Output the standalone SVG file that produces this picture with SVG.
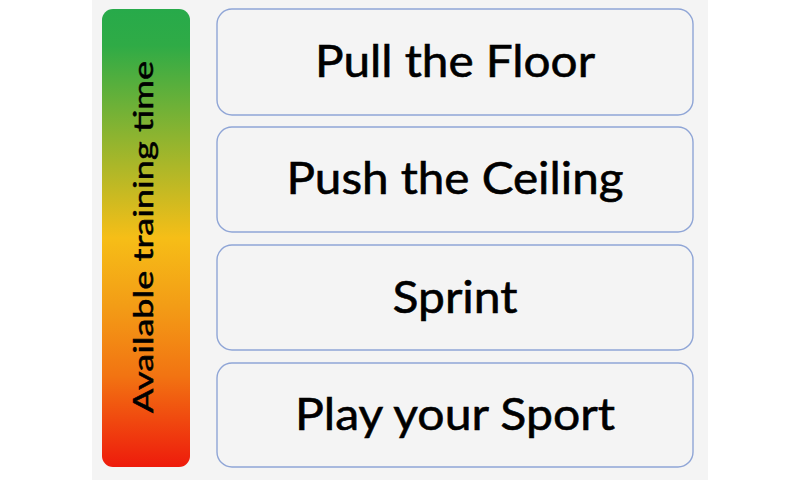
<svg xmlns="http://www.w3.org/2000/svg" width="800" height="480" viewBox="0 0 800 480">
  <defs>
    <linearGradient id="timeGrad" x1="0" y1="0" x2="0" y2="1">
      <stop offset="0" stop-color="#27AA4A"/>
      <stop offset="0.08" stop-color="#2FAB46"/>
      <stop offset="0.5" stop-color="#F6BE17"/>
      <stop offset="0.65" stop-color="#F39C16"/>
      <stop offset="0.8" stop-color="#F27412"/>
      <stop offset="1" stop-color="#EE1B0C"/>
    </linearGradient>
    <style>
      .box { fill: #F4F4F4; stroke: #8FA5D6; stroke-width: 1.4; }
      .label { font-family: "Lato", "Open Sans", "Liberation Sans", sans-serif; font-size: 45px; fill: #000000; stroke: #000000; stroke-width: 0.6; text-anchor: middle; }
      .vlabel { font-family: "Lato", "Open Sans", "Liberation Sans", sans-serif; font-size: 27px; fill: #000000; stroke: #000000; stroke-width: 0.5; text-anchor: middle; }
    </style>
  </defs>
  <rect x="0" y="0" width="800" height="480" fill="#FFFFFF"/>
  <rect x="92" y="0" width="616" height="480" fill="#F4F4F4"/>

  <g id="time-bar">
    <rect x="102" y="9" width="88" height="458" rx="11" ry="11" fill="url(#timeGrad)"/>
    <text class="vlabel" transform="translate(153,237) rotate(-90)" x="0" y="0" textLength="352" lengthAdjust="spacingAndGlyphs">Available training time</text>
  </g>

  <g id="node-pull-floor">
    <rect class="box" x="217" y="9" width="476" height="106" rx="15" ry="15"/>
    <text class="label" x="455" y="77" textLength="280" lengthAdjust="spacingAndGlyphs">Pull the Floor</text>
  </g>
  <g id="node-push-ceiling">
    <rect class="box" x="217" y="127" width="476" height="105" rx="15" ry="15"/>
    <text class="label" x="455" y="194" textLength="337" lengthAdjust="spacingAndGlyphs">Push the Ceiling</text>
  </g>
  <g id="node-sprint">
    <rect class="box" x="217" y="245" width="476" height="105" rx="15" ry="15"/>
    <text class="label" x="455" y="313" textLength="125" lengthAdjust="spacingAndGlyphs">Sprint</text>
  </g>
  <g id="node-play-sport">
    <rect class="box" x="217" y="363" width="476" height="104" rx="15" ry="15"/>
    <text class="label" x="455" y="430" textLength="320" lengthAdjust="spacingAndGlyphs">Play your Sport</text>
  </g>

  <g id="connectors"></g>
</svg>
